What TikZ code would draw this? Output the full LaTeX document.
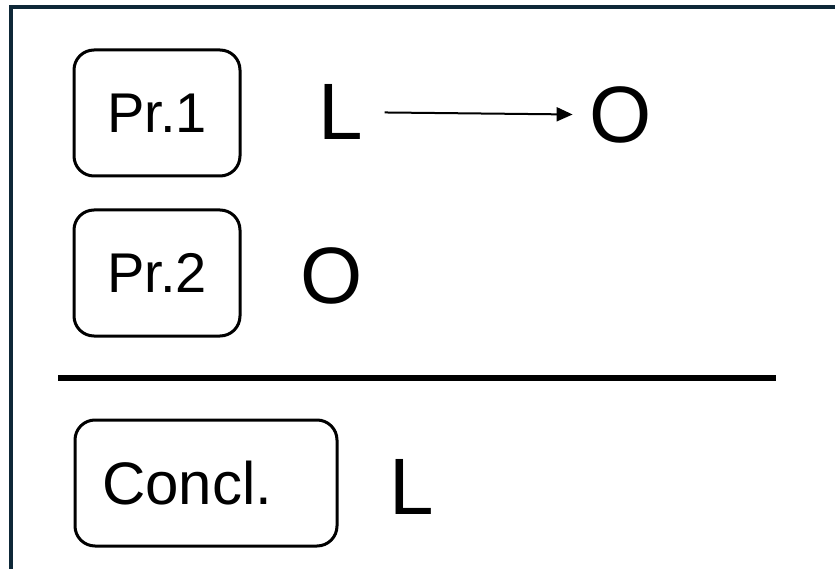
\documentclass[tikz,border=0pt]{standalone}
\usepackage{fontspec}
\setmainfont{Liberation Sans}
\usepackage{tikz}
\usetikzlibrary{arrows.meta,positioning,calc}
\definecolor{framenavy}{RGB}{14,40,56}

\begin{document}
\begin{tikzpicture}[x=1pt,y=-1pt,semithick]
		  \tikzstyle{label box}=[draw=black,line width=3pt,rounded corners=20pt,minimum height=126pt,inner sep=0pt,font=\fontsize{56}{60}\selectfont]
		  \tikzstyle{letter}=[inner sep=0pt,font=\fontsize{80}{84}\selectfont]
		  \tikzstyle{imp}=[-{Triangle[length=16pt,width=14pt]},line width=2pt]
		
		  \useasboundingbox (0,0) rectangle (835,569);
		  \draw[framenavy,line width=4pt] (835,7) -- (11,7) -- (11,569);
		
		  \node[label box,minimum width=166pt] (P1) at (157,113) {Pr.1};
		  \node[label box,minimum width=166pt] (P2) at (157,273) {Pr.2};
		  \node[label box,inner xsep=27pt,text width=208pt,align=left,font=\fontsize{60}{64}\selectfont] (C) at (206,483) {Concl.};
		
		  \node[letter] (L1) at (341,112) {L};
		  \node[letter] (O1) at (621,115) {O};
		  \node[letter] (O2) at (332,276) {O};
		  \node[letter] (L2) at (412,487) {L};
		
		  \path (L1) edge [imp,shorten <=21pt,shorten >=17pt] (O1);
		
		  % rule between premises and conclusion
		  \coordinate (ruleA) at (58,378);
		  \coordinate (ruleB) at (776,378);
		  \draw[line width=6pt] (ruleA) -- (ruleB);
		\end{tikzpicture}
\end{document}
